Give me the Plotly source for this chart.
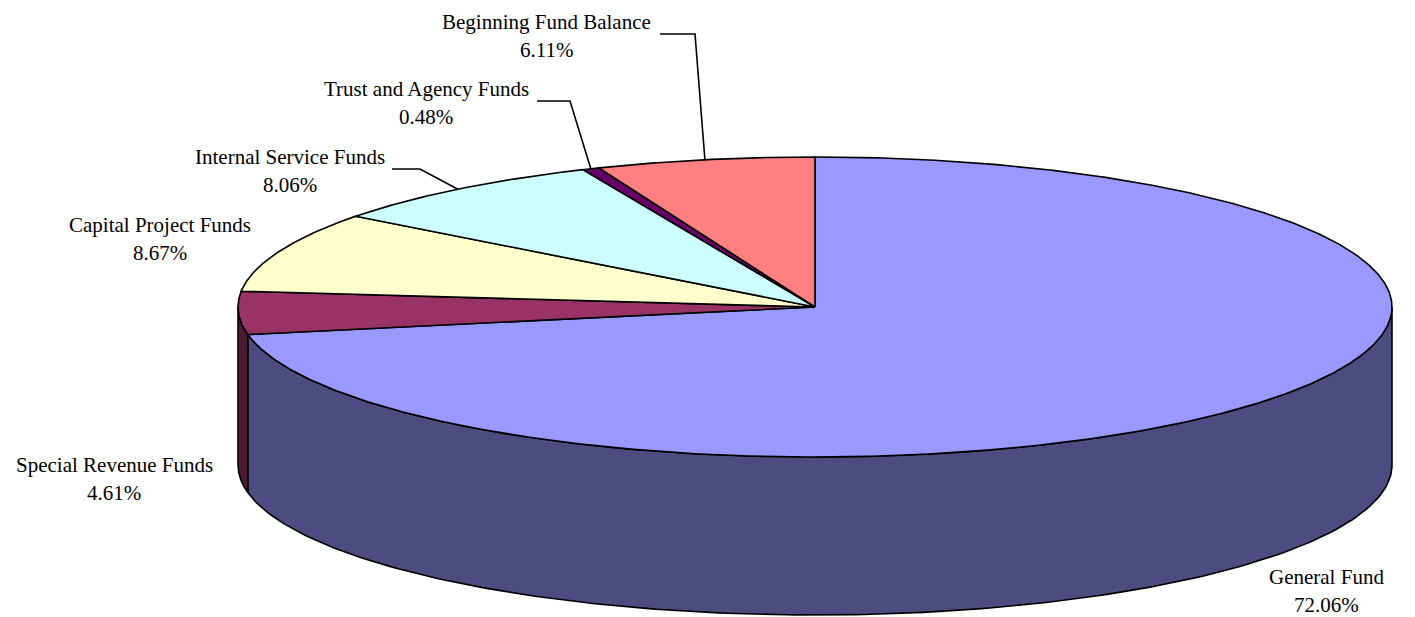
import numpy as np
import plotly.graph_objects as go

# ---- data ----
categories = ["General Fund", "Special Revenue Funds", "Capital Project Funds",
              "Internal Service Funds", "Trust and Agency Funds", "Beginning Fund Balance"]
shares = [72.06, 4.61, 8.67, 8.06, 0.48, 6.11]
top_colors = ["#9999FF", "#993366", "#FFFFCC", "#CCFFFF", "#660066", "#FF8080"]
side_colors = ["#4C4C80", "#4C1A33", "#80806A", "#6A8080", "#330033", "#804040"]

# ---- geometry (page pixel space; page body has an 8px margin) ----
W, H = 1415, 617
OFF = 8
CX, CY = 815, 307
RX, RY = 577, 150
DEPTH = 158

# label placement: (x center, y of first line), leader (text-end x, elbow x) or None
label_pos = [(1326, 577, None), (114, 465, None), (160, 225, None),
             (290, 157, (392, 420)), (426, 89, (537, 570)), (546, 22, (660, 695))]


def pt(theta_deg, dy=0.0):
    t = np.radians(theta_deg)
    return CX + RX * np.sin(t), CY - RY * np.cos(t) + dy


total = sum(shares)
bounds = np.concatenate([[0], np.cumsum(shares)]) / total * 360.0

fig = go.Figure()
line = dict(color="black", width=1.6)

# sides (visible front half: 90..270 deg)
for i in range(len(shares)):
    s, e = max(bounds[i], 90), min(bounds[i + 1], 270)
    if e <= s:
        continue
    th = np.linspace(s, e, 200)
    xt, yt = pt(th)
    xb, yb = pt(th[::-1], DEPTH)
    xs = np.concatenate([xt, xb, xt[:1]])
    ys = np.concatenate([yt, yb, yt[:1]])
    fig.add_trace(go.Scatter(x=xs, y=ys, fill="toself", fillcolor=side_colors[i],
                             mode="lines", line=line, hoverinfo="skip", showlegend=False))

# top face
for i in range(len(shares)):
    th = np.linspace(bounds[i], bounds[i + 1], max(int((bounds[i + 1] - bounds[i]) * 3), 4))
    xa, ya = pt(th)
    xs = np.concatenate([[CX], xa, [CX]])
    ys = np.concatenate([[CY], ya, [CY]])
    fig.add_trace(go.Scatter(x=xs, y=ys, fill="toself", fillcolor=top_colors[i],
                             mode="lines", line=line, hoverinfo="skip", showlegend=False))

# labels and leader lines
font = dict(family="Liberation Serif, Times New Roman, serif", size=21, color="black")
for i, name in enumerate(categories):
    lx, ly, lead = label_pos[i]
    fig.add_annotation(x=lx, y=ly, text=name, showarrow=False, xanchor="center",
                       yanchor="middle", font=font)
    fig.add_annotation(x=lx, y=ly + 28, text=f"{shares[i]:.2f}%", showarrow=False,
                       xanchor="center", yanchor="middle", font=font)
    if lead is not None:
        mid = (bounds[i] + bounds[i + 1]) / 2
        ex, ey = pt(mid)
        fig.add_trace(go.Scatter(x=[lead[0], lead[1], ex], y=[ly + 12, ly + 12, ey],
                                 mode="lines", line=dict(color="black", width=1.6),
                                 hoverinfo="skip", showlegend=False))

fig.update_layout(width=W - OFF, height=H - OFF, margin=dict(l=0, r=0, t=0, b=0),
                  plot_bgcolor="white", paper_bgcolor="white",
                  xaxis=dict(range=[OFF, W], visible=False, fixedrange=True),
                  yaxis=dict(range=[H, OFF], visible=False, fixedrange=True))
fig.write_html("out.html")
